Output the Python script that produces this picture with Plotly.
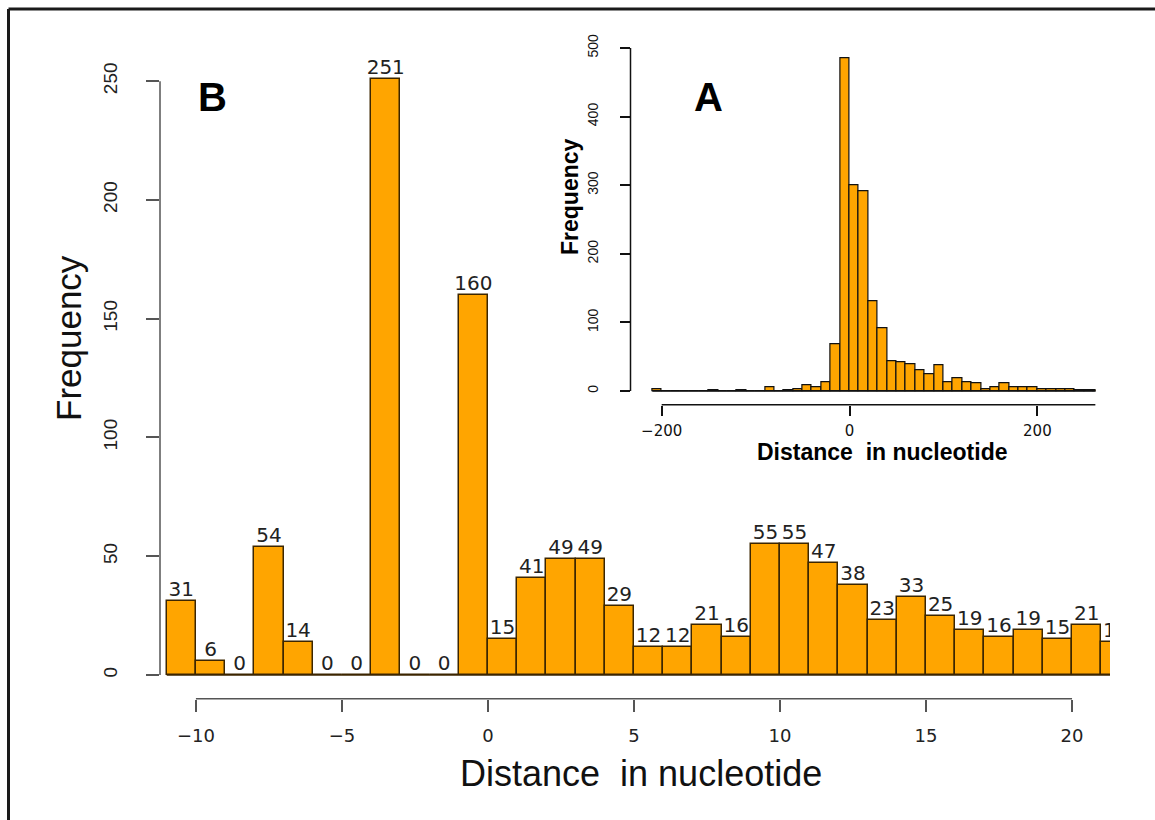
import plotly.graph_objects as go

# ---------------- data ----------------
# Panel B: 1-nt bins, left edges and counts
b_left = list(range(-11, 22))
b_counts = [31, 6, 0, 54, 14, 0, 0, 251, 0, 0, 160, 15, 41, 49, 49, 29, 12, 12,
            21, 16, 55, 55, 47, 38, 23, 33, 25, 19, 16, 19, 15, 21, 14]
b_width = 1
b_xticks = [-10, -5, 0, 5, 10, 15, 20]
b_yticks = [0, 50, 100, 150, 200, 250]

# Panel A (inset): 10-nt bins
a_left = list(range(-210, 270, 10))
a_counts = [2, 0, 0, 0, 0, 0, 1, 0, 0, 1, 0, 0, 5, 0, 1, 3, 9, 6, 12, 68,
            485, 300, 291, 131, 91, 43, 42, 39, 30, 25, 37, 12, 19, 12, 11, 2,
            6, 11, 6, 6, 6, 3, 3, 3, 3, 1, 1, 1]
a_width = 10
a_xticks = [-200, 0, 200]
a_yticks = [0, 100, 200, 300, 400, 500]

# ---------------- styling ----------------
W, H = 1155, 820
ORANGE = "#FFA500"
EDGE = "rgb(60,38,0)"
FONT = "Liberation Sans"
WIDE = "DejaVu Sans"
AXGRAY = "#555555"

def px_x(p):
    return p / W

def px_y(p):
    return 1 - p / H

b_xdom = [px_x(160), px_x(1110)]
b_ydom = [px_y(698.8), px_y(55)]
b_xrange = [-11.23, 21.3]
b_yrange = [-10, 261]

a_xdom = [px_x(630.5), px_x(1095.6)]
a_ydom = [px_y(404.7), px_y(34.3)]
a_xrange = [-233.2, 262]
a_yrange = [-20, 520]

b_centers = [l + b_width / 2 for l in b_left]
a_centers = [l + a_width / 2 for l in a_left]

fig = go.Figure()

# baseline for zero bins (B)
fig.add_trace(go.Scatter(x=[b_left[0], b_left[-1] + b_width], y=[0, 0], mode="lines",
                         line=dict(color=EDGE, width=1.5), xaxis="x", yaxis="y",
                         showlegend=False, hoverinfo="skip"))
fig.add_trace(go.Bar(x=b_centers, y=b_counts, width=b_width,
                     marker=dict(color=ORANGE, line=dict(color=EDGE, width=1.5)),
                     xaxis="x", yaxis="y", showlegend=False))
fig.add_trace(go.Scatter(x=b_centers, y=b_counts, mode="text",
                         text=[str(v) for v in b_counts], textposition="top center",
                         textfont=dict(family=WIDE, size=20, color="#222"),
                         cliponaxis=True, xaxis="x", yaxis="y",
                         showlegend=False, hoverinfo="skip"))

# Inset A
fig.add_trace(go.Scatter(x=[a_left[0], a_left[-1] + a_width], y=[0, 0], mode="lines",
                         line=dict(color="#111", width=1.5), xaxis="x2", yaxis="y2",
                         showlegend=False, hoverinfo="skip"))
fig.add_trace(go.Bar(x=a_centers, y=a_counts, width=a_width,
                     marker=dict(color=ORANGE, line=dict(color="#111", width=1.2)),
                     xaxis="x2", yaxis="y2", showlegend=False))

shapes = []
# R-style axis lines spanning only the tick range
shapes.append(dict(type="line", xref="x", yref="paper",
                   x0=b_xticks[0], x1=b_xticks[-1], y0=b_ydom[0], y1=b_ydom[0],
                   line=dict(color=AXGRAY, width=1.5)))
shapes.append(dict(type="line", xref="paper", yref="y",
                   x0=b_xdom[0], x1=b_xdom[0], y0=b_yticks[0], y1=b_yticks[-1],
                   line=dict(color=AXGRAY, width=1.5)))
shapes.append(dict(type="line", xref="x2", yref="paper",
                   x0=a_xticks[0], x1=a_xrange[1], y0=a_ydom[0], y1=a_ydom[0],
                   line=dict(color="#111", width=1.5)))
shapes.append(dict(type="line", xref="paper", yref="y2",
                   x0=a_xdom[0], x1=a_xdom[0], y0=a_yticks[0], y1=a_yticks[-1],
                   line=dict(color="#111", width=1.5)))
# outer frame (left and top edges visible)
shapes.append(dict(type="line", xref="paper", yref="paper",
                   x0=px_x(8.5), x1=px_x(8.5), y0=0, y1=px_y(9),
                   line=dict(color="#1a1a1a", width=3)))
shapes.append(dict(type="line", xref="paper", yref="paper",
                   x0=px_x(8.5), x1=1, y0=px_y(9), y1=px_y(9),
                   line=dict(color="#1a1a1a", width=3)))

annotations = [
    dict(text="Frequency", x=px_x(69), y=px_y(338), xref="paper", yref="paper",
         textangle=-90, showarrow=False, font=dict(family=FONT, size=35, color="#111"),
         xanchor="center", yanchor="middle"),
    dict(text="Distance  in nucleotide", x=px_x(641), y=px_y(773), xref="paper", yref="paper",
         showarrow=False, font=dict(family=FONT, size=36, color="#111"),
         xanchor="center", yanchor="middle"),
    dict(text="<b>B</b>", x=px_x(212), y=px_y(97), xref="paper", yref="paper",
         showarrow=False, font=dict(family=FONT, size=40, color="#000"),
         xanchor="center", yanchor="middle"),
    dict(text="<b>A</b>", x=px_x(708), y=px_y(97), xref="paper", yref="paper",
         showarrow=False, font=dict(family=FONT, size=40, color="#000"),
         xanchor="center", yanchor="middle"),
    dict(text="<b>Frequency</b>", x=px_x(570), y=px_y(197), xref="paper", yref="paper",
         textangle=-90, showarrow=False, font=dict(family=FONT, size=23, color="#000"),
         xanchor="center", yanchor="middle"),
    dict(text="<b>Distance  in nucleotide</b>", x=px_x(882), y=px_y(452), xref="paper", yref="paper",
         showarrow=False, font=dict(family=FONT, size=23, color="#000"),
         xanchor="center", yanchor="middle"),
]

fig.update_layout(
    width=W, height=H, autosize=False,
    margin=dict(l=0, r=0, t=0, b=0),
    paper_bgcolor="white", plot_bgcolor="rgba(0,0,0,0)",
    barmode="overlay", bargap=0,
    font=dict(family=FONT),
    shapes=shapes, annotations=annotations,
    xaxis=dict(domain=b_xdom, range=b_xrange, tickmode="array", tickvals=b_xticks,
               ticktext=[str(t).replace("-", "\u2212") for t in b_xticks],
               ticks="outside", ticklen=12, tickwidth=1.5, tickcolor=AXGRAY,
               showline=False, showgrid=False, zeroline=False,
               tickfont=dict(family=WIDE, size=18, color="#222"),
               ticklabelstandoff=9, fixedrange=True),
    yaxis=dict(domain=b_ydom, range=b_yrange, tickmode="array", tickvals=b_yticks,
               ticks="outside", ticklen=13, tickwidth=1.5, tickcolor=AXGRAY,
               tickangle=-90, showline=False, showgrid=False, zeroline=False,
               tickfont=dict(family=FONT, size=19, color="#222"),
               ticklabelstandoff=21, fixedrange=True),
    xaxis2=dict(domain=a_xdom, range=a_xrange, anchor="y2", tickmode="array",
                tickvals=a_xticks, ticktext=[str(t).replace("-", "\u2212") for t in a_xticks],
                ticks="outside", ticklen=10, tickwidth=1.5, tickcolor="#111",
                showline=False, showgrid=False, zeroline=False,
                tickfont=dict(family=WIDE, size=15, color="#111"),
                ticklabelstandoff=2, fixedrange=True),
    yaxis2=dict(domain=a_ydom, range=a_yrange, anchor="x2", tickmode="array",
                tickvals=a_yticks, ticks="outside", ticklen=10, tickwidth=1.5,
                tickcolor="#111", tickangle=-90, showline=False, showgrid=False,
                zeroline=False, tickfont=dict(family=FONT, size=14, color="#111"),
                ticklabelstandoff=16, fixedrange=True),
)

fig.write_html("out.html", config={"displayModeBar": False},
               post_script="document.body.style.margin='0';")
